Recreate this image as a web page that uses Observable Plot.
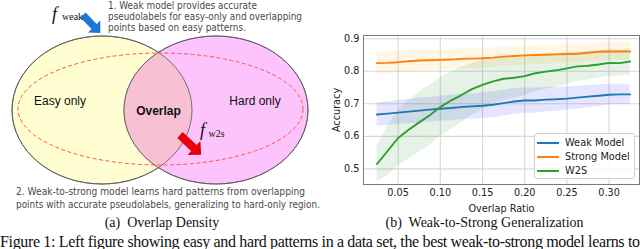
<!DOCTYPE html>
<html><head><meta charset="utf-8">
<script src="https://cdn.jsdelivr.net/npm/d3@7"></script>
<script src="https://cdn.jsdelivr.net/npm/@observablehq/plot@0.6"></script>
<style>
html,body{margin:0;padding:0;background:#fff;}
#wrap{position:relative;width:640px;height:249px;overflow:hidden;background:#fff;}
#venn{position:absolute;left:0;top:0;}
#chart{position:absolute;left:310px;top:0;}
#legend{position:absolute;left:534px;top:133px;width:101px;height:46px;border:1px solid #d0d0d0;border-radius:3px;background:rgba(255,255,255,0.85);box-sizing:border-box;font:9.8px "DejaVu Sans",sans-serif;color:#222;}
#legend .row{position:absolute;left:0;height:14px;line-height:14px;white-space:nowrap;}
#legend .sw{position:absolute;left:2px;top:6px;width:22px;height:2px;}
#legend .lab{position:absolute;left:30px;top:0;}
.cap{position:absolute;font:14px "Liberation Serif","Times New Roman",serif;color:#111;white-space:nowrap;transform:translateX(-50%);}
</style></head><body>
<div id="wrap">
<svg id="venn" width="640" height="249" viewBox="0 0 640 249">
  <defs>
    <clipPath id="clipY"><ellipse cx="102" cy="110" rx="90" ry="74"/></clipPath>
  </defs>
  <ellipse cx="102" cy="110" rx="90" ry="74" fill="#fefed2" stroke="#555" stroke-width="0.8"/>
  <ellipse cx="216" cy="110" rx="92" ry="74" fill="#fdc3fd" stroke="#555" stroke-width="0.8"/>
  <ellipse cx="216" cy="110" rx="92" ry="74" fill="#f8c1d3" clip-path="url(#clipY)"/>
  <ellipse cx="102" cy="110" rx="90" ry="74" fill="none" stroke="#555" stroke-width="0.8"/>
  <ellipse cx="216" cy="110" rx="92" ry="74" fill="none" stroke="#555" stroke-width="0.8"/>
  <ellipse cx="160.5" cy="109" rx="142.5" ry="56" fill="none" stroke="#ff5548" stroke-width="1" stroke-dasharray="4 2.5"/>
  <g font-family="'Liberation Sans',Arial,sans-serif" font-size="12" fill="#111">
    <text x="60" y="104.5" text-anchor="middle">Easy only</text>
    <text x="255" y="104.5" text-anchor="middle">Hard only</text>
    <text x="158.5" y="114.5" text-anchor="middle" font-weight="bold">Overlap</text>
  </g>
  <g font-family="'DejaVu Sans',sans-serif" font-size="9.6" fill="#4a4a4a">
    <text x="108" y="8.5" textLength="149" lengthAdjust="spacingAndGlyphs">1. Weak model provides accurate</text>
    <text x="108" y="19.8" textLength="194" lengthAdjust="spacingAndGlyphs">pseudolabels for easy-only and overlapping</text>
    <text x="108" y="31" textLength="138" lengthAdjust="spacingAndGlyphs">points based on easy patterns.</text>
    <text x="16" y="195" textLength="289" lengthAdjust="spacingAndGlyphs">2. Weak-to-strong model learns hard patterns from overlapping</text>
    <text x="16" y="208.3" textLength="304" lengthAdjust="spacingAndGlyphs">points with accurate pseudolabels, generalizing to hard-only region.</text>
  </g>
  <g transform="translate(83,15) rotate(46)">
    <polygon points="0,-3.6 16,-3.6 16,-8.5 25,0 16,8.5 16,3.6 0,3.6" fill="#1b78d6"/>
  </g>
  <g transform="translate(180,135) rotate(43)">
    <polygon points="0,-4 19,-4 19,-9.5 29,0 19,9.5 19,4 0,4" fill="#e8000a"/>
  </g>
  <g font-family="'Liberation Serif','Times New Roman',serif" fill="#111">
    <text x="52" y="20" font-size="18" font-style="italic">f</text>
    <text x="62" y="20" font-size="10">weak</text>
    <text x="200" y="136" font-size="18" font-style="italic">f</text>
    <text x="208.5" y="137" font-size="10">w2s</text>
  </g>
</svg>
<div id="chart"></div>
<div id="legend"></div>
<div class="cap" style="left:162px;top:215px;">(a)&nbsp; Overlap Density</div>
<div class="cap" style="left:484.5px;top:215px;">(b)&nbsp; Weak-to-Strong Generalization</div>
<svg style="position:absolute;left:0;top:0" width="640" height="249">
  <text x="0" y="247" font-family="'Liberation Serif','Times New Roman',serif" font-size="16" fill="#111" textLength="640" lengthAdjust="spacing">Figure 1: Left figure showing easy and hard patterns in a data set, the best weak-to-strong model learns to</text>
</svg>
</div>
<script>
// Overlap ratio (x)
const ratio = [0.025, 0.0375, 0.05, 0.0625, 0.075, 0.0875, 0.1, 0.1125, 0.125, 0.1375, 0.15, 0.1625, 0.175, 0.1875, 0.2, 0.2125, 0.225, 0.2375, 0.25, 0.2625, 0.275, 0.2875, 0.3, 0.3125, 0.325];
// Weak model accuracy mean and spread
const weakMean = [0.667, 0.670, 0.673, 0.676, 0.679, 0.682, 0.685, 0.687, 0.690, 0.692, 0.694, 0.697, 0.702, 0.707, 0.710, 0.710, 0.713, 0.714, 0.716, 0.719, 0.722, 0.725, 0.728, 0.729, 0.729];
const weakSd   = [0.036, 0.036, 0.037, 0.037, 0.038, 0.038, 0.038, 0.039, 0.039, 0.039, 0.040, 0.040, 0.040, 0.040, 0.039, 0.039, 0.038, 0.037, 0.036, 0.035, 0.034, 0.033, 0.032, 0.031, 0.030];
// Strong model accuracy mean and spread
const strongMean = [0.825, 0.826, 0.828, 0.831, 0.833, 0.834, 0.835, 0.836, 0.838, 0.839, 0.840, 0.842, 0.845, 0.847, 0.849, 0.850, 0.851, 0.852, 0.853, 0.854, 0.857, 0.860, 0.861, 0.861, 0.861];
const strongSd   = [0.033, 0.033, 0.033, 0.032, 0.032, 0.032, 0.031, 0.031, 0.031, 0.030, 0.030, 0.030, 0.030, 0.029, 0.029, 0.029, 0.029, 0.028, 0.028, 0.028, 0.028, 0.028, 0.028, 0.028, 0.028];
// W2S accuracy mean and spread
const w2sMean = [0.515, 0.555, 0.595, 0.620, 0.643, 0.665, 0.690, 0.710, 0.727, 0.745, 0.758, 0.769, 0.777, 0.780, 0.785, 0.794, 0.799, 0.803, 0.809, 0.815, 0.817, 0.821, 0.826, 0.825, 0.830];
const w2sSd   = [0.055, 0.075, 0.085, 0.090, 0.092, 0.092, 0.090, 0.088, 0.085, 0.080, 0.075, 0.070, 0.066, 0.062, 0.060, 0.057, 0.054, 0.051, 0.049, 0.046, 0.044, 0.042, 0.041, 0.040, 0.040];

const seriesNames = ["Weak Model", "Strong Model", "W2S"];
const lineColors = ["#1f77b4", "#ff7f0e", "#2ca02c"];
const bandColors = ["blue", "orange", "green"];
const xTicks = [0.05, 0.10, 0.15, 0.20, 0.25, 0.30];
const yTicks = [0.5, 0.6, 0.7, 0.8, 0.9];

const means = [weakMean, strongMean, w2sMean];
const sds = [weakSd, strongSd, w2sSd];
const rows = seriesNames.flatMap((name, s) => ratio.map((x, i) => ({
  name, x, y: means[s][i], lo: means[s][i] - sds[s][i], hi: means[s][i] + sds[s][i]
})));

const bandMarks = seriesNames.map((name, s) =>
  Plot.areaY(rows.filter(d => d.name === name), {x: "x", y1: "lo", y2: "hi", fill: bandColors[s], fillOpacity: 0.1}));

const chart = Plot.plot({
  width: 330, height: 249,
  marginLeft: 53, marginRight: 1, marginTop: 35, marginBottom: 65,
  style: {fontFamily: "'DejaVu Sans', sans-serif", fontSize: "9.7px", color: "#222", background: "transparent"},
  x: {domain: [0.009, 0.336]},
  y: {domain: [0.452, 0.910]},
  color: {domain: seriesNames, range: lineColors},
  marks: [
    Plot.gridX(xTicks, {stroke: "#d8d8d8", strokeOpacity: 1, strokeWidth: 1.1}),
    Plot.gridY(yTicks, {stroke: "#d8d8d8", strokeOpacity: 1, strokeWidth: 1.1}),
    ...bandMarks,
    Plot.lineY(rows, {x: "x", y: "y", stroke: "name", strokeWidth: 1.9}),
    Plot.frame({stroke: "#7a7a7a", strokeWidth: 1}),
    Plot.axisX(xTicks, {tickSize: 0, tickPadding: 5, tickFormat: d3.format(".2f"), label: "Overlap Ratio", labelAnchor: "center", labelArrow: "none", labelOffset: 27}),
    Plot.axisY(yTicks, {tickSize: 0, tickPadding: 4, tickFormat: d3.format(".1f"), label: "Accuracy", labelAnchor: "center", labelArrow: "none", labelOffset: 30})
  ]
});
document.getElementById("chart").appendChild(chart);

const legend = document.getElementById("legend");
seriesNames.forEach((name, s) => {
  const row = document.createElement("div");
  row.className = "row";
  row.style.top = (2 + s * 14.2) + "px";
  row.style.width = "100%";
  row.innerHTML = `<div class="sw" style="background:${lineColors[s]}"></div><div class="lab">${name}</div>`;
  legend.appendChild(row);
});
</script>
</body></html>
